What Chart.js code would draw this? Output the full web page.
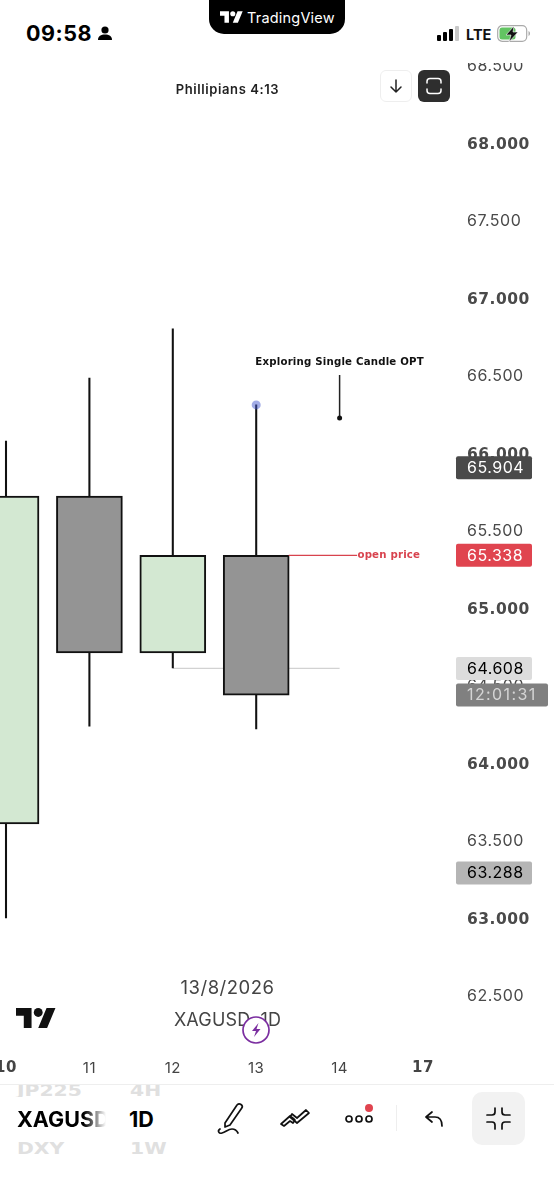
<!DOCTYPE html>
<html>
<head>
<meta charset="utf-8">
<title>XAGUSD 1D</title>
<script src="https://cdn.jsdelivr.net/npm/chart.js@4/dist/chart.umd.min.js"></script>
<style>
html, body { margin: 0; padding: 0; background: #fff; }
body { width: 554px; height: 1199px; position: relative; overflow: hidden; font-family: Inter, "Liberation Sans", sans-serif; }
canvas { position: absolute; left: 0; top: 0; }
.abs { position: absolute; white-space: nowrap; line-height: 1; }
.mid { transform: translate(-50%, -50%); }
.vmid { transform: translateY(-50%); }
.wide { font: 700 16px 'DejaVu Sans'; color: #e0e0e0; transform: translateY(-50%) scaleX(1.27); transform-origin: left center; }
svg { position: absolute; overflow: visible; }
</style>
</head>
<body>
<canvas id="chart" width="554" height="1199"></canvas>

<!-- top of the phone screen, also clips the 68.500 label -->
<div class="abs" style="left:0;top:0;width:554px;height:63px;background:#fff"></div>
<div class="abs vmid" style="left:26px;top:33px;font:700 21.500px Inter;letter-spacing:.5px;color:#000">09:58</div>
<svg style="left:97px;top:26px" width="16" height="15" viewBox="0 0 16 15"><circle cx="8" cy="4" r="3.600" fill="#000"/><path d="M1 14c0-4 3-5.500 7-5.500s7 1.500 7 5.500z" fill="#000"/></svg>
<div class="abs" style="left:209px;top:0;width:136px;height:34px;background:#000;border-radius:0 0 15px 15px"></div>
<svg style="left:220px;top:11px" width="23" height="12" viewBox="0 0 36 18"><path d="M14 18H7V7H0V0h14zM28 18h-8L27.500 0h8z" fill="#fff"/><circle cx="20" cy="4" r="4" fill="#fff"/></svg>
<div class="abs vmid" style="left:247px;top:17px;font:400 14.500px Inter;letter-spacing:.2px;color:#fff">TradingView</div>
<svg style="left:437px;top:26px" width="24" height="15"><rect x="0" y="9" width="4" height="6" rx="1" fill="#000"/><rect x="6" y="6" width="4" height="9" rx="1" fill="#000"/><rect x="12" y="3" width="4" height="12" rx="1" fill="#000"/><rect x="18" y="0" width="4" height="15" rx="1" fill="#c8c8c8"/></svg>
<div class="abs vmid" style="left:466px;top:33.500px;font:700 14.500px Inter;color:#111">LTE</div>
<svg style="left:497px;top:25px" width="36" height="18"><rect x=".7" y=".7" width="29" height="15.600" rx="4.500" fill="none" stroke="#aaa" stroke-width="1.200"/><rect x="2.500" y="2.500" width="16" height="12" rx="2.500" fill="#62c462"/><path d="M17 1 9 10h5l-2 7 9-10h-5z" fill="#111" stroke="#fff" stroke-width=".6"/><path d="M31.500 6v5c1-.5 1.500-1.500 1.500-2.500s-.5-2-1.500-2.500z" fill="#aaa"/></svg>

<div class="abs mid" style="left:227.500px;top:89px;font:600 13px Inter;letter-spacing:.6px;color:#222">Phillipians 4:13</div>
<div class="abs" style="left:380px;top:70px;width:30px;height:30px;border:1px solid #eee;border-radius:6px;background:#fff"></div>
<svg style="left:380px;top:70px" width="32" height="32" fill="none" stroke="#222" stroke-width="1.500" stroke-linecap="round" stroke-linejoin="round"><path d="M16 10v12M11 17l5 5 5-5"/></svg>
<div class="abs" style="left:418px;top:70px;width:32px;height:32px;border-radius:6px;background:#2e2e2e"></div>
<svg style="left:418px;top:70px" width="32" height="32" fill="none" stroke="#fff" stroke-width="1.500" stroke-linecap="round"><path d="M9 13v-1.500a3 3 0 0 1 3-3h8a3 3 0 0 1 3 3V13M9 19v1.500a3 3 0 0 0 3 3h8a3 3 0 0 0 3-3V19"/></svg>

<!-- watermark -->
<div class="abs mid" style="left:227.500px;top:987px;font:400 18.500px Inter;letter-spacing:.5px;color:#444">13/8/2026</div>
<div class="abs mid" style="left:227.500px;top:1019px;font:400 18px Inter;letter-spacing:.2px;color:#444">XAGUSD, 1D</div>
<svg style="left:16px;top:1008px" width="40" height="20" viewBox="0 0 36 18"><path d="M14 18H7V7H0V0h14zM28 18h-8L27.500 0h8z" fill="#111"/><circle cx="20" cy="4" r="4" fill="#111"/></svg>
<svg style="left:242px;top:1016px" width="28" height="28"><circle cx="14" cy="14" r="13" fill="#fff" stroke="#7b2ea0" stroke-width="1.700"/><path d="M16.500 7 10 15h4l-2 6 6.500-8h-4z" fill="#7b2ea0"/></svg>

<!-- bottom toolbar -->
<div class="abs" style="left:0;top:1084px;width:554px;height:115px;background:#fff;border-top:1px solid #eee;box-sizing:border-box"></div>
<div class="abs" style="left:0;top:1085px;width:554px;height:12px;overflow:hidden">
  <div class="abs wide" style="left:17px;top:5px">JP225</div>
  <div class="abs wide" style="left:130px;top:5px">4H</div>
</div>
<div class="abs vmid" style="left:17px;top:1119px;width:89px;overflow:hidden;font:700 21.500px Inter;color:#000;-webkit-mask-image:linear-gradient(90deg,#000 75%,transparent)">XAGUSD</div>
<div class="abs vmid" style="left:129px;top:1119px;font:700 21.500px Inter;color:#000">1D</div>
<div class="abs wide" style="left:17px;top:1148px">DXY</div>
<div class="abs wide" style="left:130px;top:1148px">1W</div>
<svg style="left:216px;top:1101px" width="32" height="36" fill="none" stroke="#111" stroke-width="1.700" stroke-linecap="round" stroke-linejoin="round"><path d="M9 22 21 4c1-1 2.500-1.500 4-.5s1.500 2.500.8 3.600L14 24l-5 2z"/><path d="M4 28c-3 2-1 5 2 4 4-1 6-4 10-4 3 0 5 2 6 4"/></svg>
<svg style="left:279px;top:1107px" width="32" height="24" fill="none" stroke="#111" stroke-width="1.700" stroke-linejoin="round"><path d="M2 17 11 9l4 3 1 1-2 3-3-2-6 5zM13 7l5 4 9-8 3 3-12 10-7-6z"/></svg>
<svg style="left:344px;top:1103px" width="32" height="24" fill="none" stroke="#111" stroke-width="1.700"><circle cx="5" cy="16" r="3"/><circle cx="15" cy="16" r="3"/><circle cx="25" cy="16" r="3"/><circle cx="25" cy="5" r="4" fill="#e0444f" stroke="none"/></svg>
<div class="abs" style="left:396px;top:1105px;width:1px;height:26px;background:#eee"></div>
<svg style="left:424px;top:1110px" width="22" height="18" fill="none" stroke="#111" stroke-width="1.700" stroke-linecap="round" stroke-linejoin="round"><path d="M8 2 2 7l6 5M2 7h9c5 0 7 3 7 9"/></svg>
<div class="abs" style="left:472px;top:1092px;width:53px;height:53px;border-radius:10px;background:#f2f2f2"></div>
<svg style="left:472px;top:1092px" width="53" height="53" fill="none" stroke="#111" stroke-width="1.700" stroke-linecap="round" stroke-linejoin="round"><path d="M23 16v4c0 2-1 3-3 3h-5M30 16v4c0 2 1 3 3 3h5M23 37v-4c0-2-1-3-3-3h-5M30 37v-4c0-2 1-3 3-3h5"/></svg>

<script>
// day labels on the time axis, one per index on the x scale
const dayLabels = ['10', '11', '12', '13', '14', '17'];
const boldDays = ['10', '17'];

// candles
const candleIndex = [0, 1, 2, 3];
const opens = [63.604, 65.72, 64.708, 65.338];
const closes = [65.72, 64.708, 65.338, 64.436];
const highs = [66.076, 66.483, 66.80, 66.309];
const lows = [62.997, 64.236, 64.611, 64.217];

const priceTicks = [68.5, 68, 67.5, 67, 66.5, 66, 65.5, 65, 64.5, 64, 63.5, 63, 62.5];

// price tags on the right axis
const tagPrices = [65.904, 65.338, 64.608, 63.288, 64.436];
const tagTexts = ['65.904', '65.338', '64.608', '63.288', '12:01:31'];
const tagFills = ['#4a4a4a', '#e0444f', '#dcdcdc', '#b5b5b5', '#808080'];
const tagInks = ['#ffffff', '#ffffff', '#000000', '#000000', '#d4d4d4'];

// drawings
const openLineX = [3.39, 4.21];
const openLineY = [65.338, 65.338];
const grayLineX = [2, 4];
const grayLineY = [64.608, 64.608];
const noteLineX = [4, 4];
const noteLineY = [66.502, 66.225];

var upColor = '#d3e8d2';
var downColor = '#949494';

var wicks = candleIndex.map(function(i) {
    return { x: i, y: [lows[i], highs[i]] };
});
var bodies = candleIndex.map(function(i) {
    return { x: i, y: [opens[i], closes[i]] };
});
var bodyColors = candleIndex.map(function(i) {
    return closes[i] > opens[i] ? upColor : downColor;
});

function toPoints(xs, ys) {
    return xs.map(function(x, i) { return { x: x, y: ys[i] }; });
}

function isBold(v) {
    return v % 1 === 0;
}

// the axes must not give up room for labels that run off the edge
function noAxisPadding(s) {
    s._calculatePadding = function() {};
}

var overlays = {
    id: 'overlays',
    beforeDraw: function(chart) {
        chart.ctx.letterSpacing = '0.5px';
        // nudge the price labels down to sit where the app puts them
        chart.scales.y.getLabelItems().forEach(function(item, i) {
            if (!item.nudged) {
                item.options.translation[1] += isBold(priceTicks[i]) ? 2 : 1;
                item.nudged = true;
            }
        });
    },
    afterDraw: function(chart) {
        var ctx = chart.ctx;
        var x = chart.scales.x;
        var y = chart.scales.y;

        ctx.save();
        ctx.textBaseline = 'middle';

        // axis tags
        tagPrices.forEach(function(p, i) {
            var py = y.getPixelForValue(p);
            var long = tagTexts[i].length > 6;
            ctx.fillStyle = tagFills[i];
            ctx.beginPath();
            ctx.roundRect(456, py - 11.5, long ? 92 : 76, 23, 2);
            ctx.fill();
            ctx.fillStyle = tagInks[i];
            ctx.font = '400 16px Inter';
            ctx.textAlign = 'left';
            ctx.letterSpacing = long ? '1.4px' : '0.5px';
            ctx.fillText(tagTexts[i], 467, py + 0.5);
        });

        // text notes
        ctx.textAlign = 'center';
        ctx.font = 'bold 10.2px "DejaVu Sans"';
        ctx.letterSpacing = '0.2px';
        ctx.fillStyle = '#111';
        ctx.fillText('Exploring Single Candle OPT', x.getPixelForValue(4), 362);
        ctx.fillStyle = '#d8434e';
        ctx.fillText('open price', x.getPixelForValue(4.59), y.getPixelForValue(65.338));
        ctx.restore();
    }
};

new Chart(document.getElementById('chart'), {
    type: 'bar',
    data: {
        datasets: [
            { data: bodies, backgroundColor: bodyColors, borderColor: '#111', borderWidth: 2, borderSkipped: false, barThickness: 66, grouped: false, order: 1 },
            { data: wicks, backgroundColor: '#111', barThickness: 1.4, grouped: false, order: 2 },
            { type: 'line', data: toPoints(grayLineX, grayLineY), borderColor: '#d2d2d2', borderWidth: 1.2, pointRadius: 0, order: 3 },
            { type: 'line', data: toPoints(openLineX, openLineY), borderColor: '#d8434e', borderWidth: 1.2, pointRadius: 0, order: 0 },
            { type: 'line', data: toPoints(noteLineX, noteLineY), borderColor: '#222', borderWidth: 1.5, pointRadius: [0, 2.5], pointBackgroundColor: '#111', pointBorderWidth: 0, order: 0 },
            { type: 'line', data: [{ x: candleIndex[3], y: highs[3] }], pointRadius: 4.5, pointBackgroundColor: 'rgba(70,90,205,.5)', pointBorderWidth: 0, order: 0 }
        ]
    },
    options: {
        responsive: false,
        animation: false,
        layout: { autoPadding: false, padding: { top: 63, bottom: 107, left: 0, right: 0 } },
        plugins: { legend: { display: false }, tooltip: { enabled: false } },
        scales: {
            x: {
                type: 'linear',
                min: -0.072,
                max: 5.4436,
                offset: false,
                grid: { display: false, drawTicks: false },
                border: { display: false },
                afterBuildTicks: function(s) {
                    s.ticks = dayLabels.map(function(d, i) { return { value: i }; });
                },
                beforeFit: noAxisPadding,
                afterFit: function(s) {
                    s.height = 40;
                },
                ticks: {
                    autoSkip: false,
                    maxRotation: 0,
                    padding: 7,
                    color: '#444',
                    callback: function(v) { return dayLabels[v]; },
                    font: function(c) {
                        var bold = c.tick && boldDays.indexOf(dayLabels[c.tick.value]) >= 0;
                        return bold ? { family: 'DejaVu Sans', size: 15, weight: 'bold' } : { family: 'Inter', size: 15, weight: '400' };
                    }
                }
            },
            y: {
                type: 'linear',
                position: 'right',
                min: 62.1317,
                max: 68.5165,
                grid: { display: false, drawTicks: false },
                border: { display: false },
                afterBuildTicks: function(s) {
                    s.ticks = priceTicks.map(function(v) { return { value: v }; });
                },
                beforeFit: noAxisPadding,
                afterFit: function(s) {
                    s.width = 94;
                },
                ticks: {
                    autoSkip: false,
                    padding: 7,
                    color: '#4a4a4a',
                    callback: function(v) { return v.toFixed(3); },
                    font: function(c) {
                        return c.tick && isBold(c.tick.value) ? { family: 'DejaVu Sans', size: 15.5, weight: 'bold' } : { family: 'Inter', size: 16, weight: '400' };
                    }
                }
            }
        }
    },
    plugins: [overlays]
});
</script>
</body>
</html>
